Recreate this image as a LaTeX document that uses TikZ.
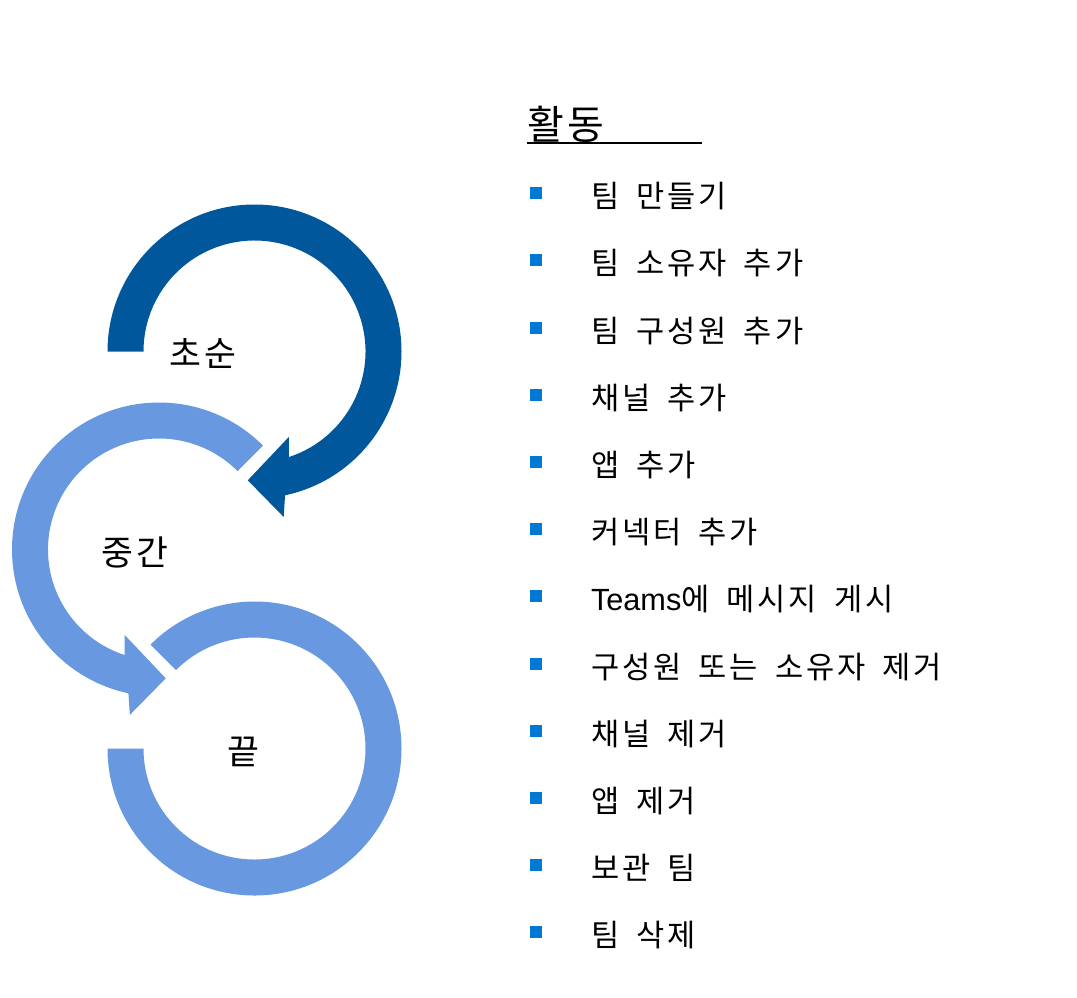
\documentclass[tikz,border=0pt]{standalone}
\usepackage{fontspec}
\setmainfont{Noto Sans CJK KR}[LetterSpace=10, WordSpace=1.7]
\newfontfamily\latinfont{Liberation Sans}
\usepackage{tikz}
\usetikzlibrary{calc}
\definecolor{blue1} {RGB} {1, 87, 155}
\definecolor{blue2} {RGB} {103, 152, 224}
\definecolor{blue3} {RGB} {0, 120, 212}
\tikzstyle{flow}=[
  x=0.75pt, y=-0.75pt, every node/.style={inner sep=0pt, outer sep=0pt}
]
\tikzstyle{ringdark}=[
  fill=blue1, draw=none
]
\tikzstyle{ringlight}=[
  fill=blue2, draw=none
]
\tikzstyle{phase}=[
  font=\fontsize{26}{30}\selectfont
]
\tikzstyle{heading}=[
  font=\fontsize{30}{34}\selectfont, anchor=base west
]
\tikzstyle{task}=[
  font=\fontsize{23}{26}\selectfont, anchor=west
]
\tikzstyle{bulletbox}=[
  fill=blue3, minimum size=9pt
]
\begin{document}
\begin{tikzpicture}[flow]
    \useasboundingbox (0,0) rectangle (1077,997);

    \coordinate (c1) at (254.5, 351.5);
    \coordinate (c2) at (159, 549.5);
    \coordinate (c3) at (254.5, 748.5);

    % rings, radius 147 outside and 111 inside
    \fill [ringdark] ($(c1) + (180:147)$) arc [start angle=180, end angle=438, radius=147]
        -- ($(c1) + (440:168)$) -- ($(c1) + (453:129)$) -- ($(c1) + (428:92)$)
        -- ($(c1) + (432:111)$) arc [start angle=432, end angle=180, radius=111] -- cycle;
    \fill [ringlight] ($(c2) + (-45:147)$) arc [start angle=-45, end angle=-258, radius=147]
        -- ($(c2) + (-260:168)$) -- ($(c2) + (-273:129)$) -- ($(c2) + (-248:92)$)
        -- ($(c2) + (-252:111)$) arc [start angle=-252, end angle=-45, radius=111] -- cycle;
    \fill [ringlight] ($(c3) + (180:147)$) arc [start angle=180, end angle=-135, radius=147]
        -- ($(c3) + (-135:111)$) arc [start angle=-135, end angle=180, radius=111] -- cycle;

    \node (early) [phase] at ($(c1) + (-51.5, 1.5)$) {초순};
    \node (middle) [phase] at ($(c2) + (-24, 2.5)$) {중간};
    \node (late) [phase] at ($(c3) + (-11.5, 3.5)$) {끝};

    % activity list
    \node (head) [heading] at (527, 139) {활동};
    \coordinate (ulend) at (702, 143);
    \draw [line width=1.5pt] (head.base west |- ulend) -- (ulend);

    \foreach \t [count=\i] in {팀 만들기, 팀 소유자 추가, 팀 구성원 추가, 채널 추가,
        앱 추가, 커넥터 추가, {\latinfont Teams}에 메시지 게시, 구성원 또는 소유자 제거,
        채널 제거, 앱 제거, 보관 팀, 팀 삭제} {
        \node (bullet\i) [bulletbox] at (536, 126 + 67.2*\i) {};
        \node (task\i) [task] at (591, 129 + 67.2*\i) {\t};
    }
\end{tikzpicture}
\end{document}
